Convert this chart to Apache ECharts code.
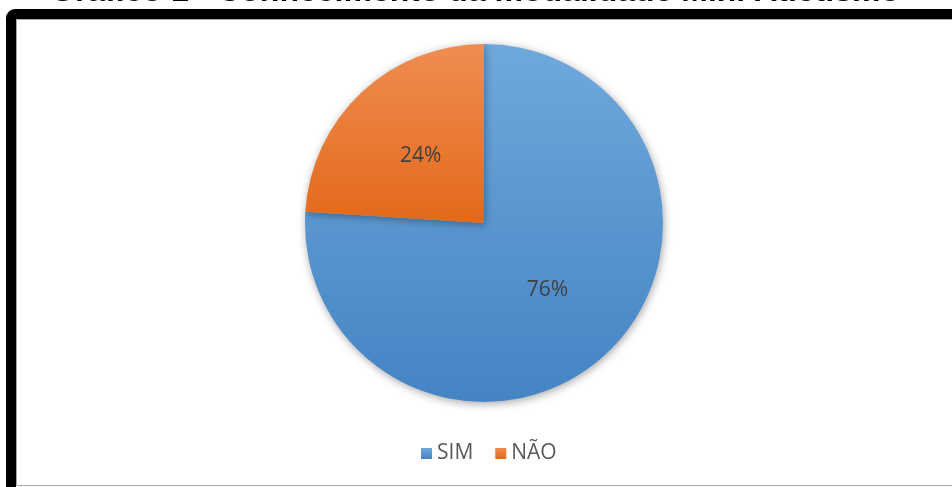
<!DOCTYPE html>
<html><head><meta charset="utf-8">
<script src="https://cdn.jsdelivr.net/npm/echarts@6/dist/echarts.min.js"></script>
<style>html,body{margin:0;padding:0;background:#fff;}#c{width:952px;height:487px;}</style>
</head><body><div id="c"></div>
<script>
const titleText = 'Gráfico 1 - Conhecimento da modalidade Mini Atletismo';
const categories = ['SIM', 'NÃO'];
const values = [76, 24];
const colorsTop = ['#6FA8DC', '#F08D52'];
const colorsBottom = ['#4484C4', '#E3691A'];

const chart = echarts.init(document.getElementById('c'), null, {renderer: 'canvas'});
const cx = 484, cy = 223, R = 179;
chart.setOption({
  animation: false,
  backgroundColor: '#fff',
  graphic: [
    {type: 'rect', z: 0, shape: {x: 11, y: 14, width: 960, height: 500, r: 4},
     style: {fill: '#fff', stroke: '#000', lineWidth: 10}},
    {type: 'rect', z: 1, shape: {x: 16.5, y: 19.5, width: 960, height: 466},
     style: {fill: '#fff', stroke: '#a6a6a6', lineWidth: 1}},
    {type: 'text', z: 3, style: {text: titleText, x: 475, y: 8, align: 'center', verticalAlign: 'bottom',
      font: 'bold 32px "Liberation Sans", Arial, sans-serif', fill: '#000'}}
  ],
  legend: {
    data: categories,
    bottom: 18,
    left: 416,
    icon: 'rect',
    itemWidth: 11,
    itemHeight: 11,
    itemGap: 22,
    textStyle: {color: '#595959', fontSize: 21, fontFamily: '"Open Sans", sans-serif'}
  },
  series: [{
    type: 'pie',
    center: [cx, cy],
    radius: [0, R],
    startAngle: 90,
    clockwise: true,
    z: 5,
    label: {
      position: 'inside',
      formatter: '{d}%',
      color: '#404040',
      fontSize: 21,
      fontFamily: '"Open Sans", sans-serif'
    },
    labelLine: {show: false},
    emphasis: {disabled: true},
    itemStyle: {shadowBlur: 8, shadowColor: 'rgba(0,0,0,0.35)', shadowOffsetX: 1, shadowOffsetY: 2},
    data: categories.map((n, i) => ({
      name: n, value: values[i],
      itemStyle: {color: {type: 'linear', x: 0, y: 0, x2: 0, y2: 1,
        colorStops: [{offset: 0, color: colorsTop[i]}, {offset: 1, color: colorsBottom[i]}]}}
    }))
  }]
});
</script></body></html>
